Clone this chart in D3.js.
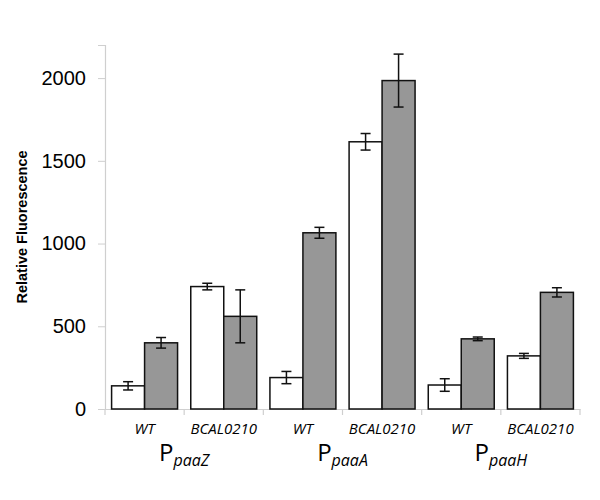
<!DOCTYPE html>
<html>
<head>
<meta charset="utf-8">
<script src="https://cdn.jsdelivr.net/npm/d3@7"></script>
<style>
  body { margin: 0; background: #fff; }
</style>
</head>
<body>
<div id="chart"></div>
<script>
// categories along the x axis
var promoters = ['paaZ', 'paaA', 'paaH'];
var strains = ['WT', 'BCAL0210'];

// white bars (first series) and grey bars (second series), in promoter/strain order
var whiteValues = [140, 740, 190, 1615, 145, 321];
var whiteErrors = [25, 20, 37, 50, 38, 15];
var greyValues = [400, 560, 1065, 1985, 424, 705];
var greyErrors = [32, 160, 33, 160, 11, 28];

var yTicks = [0, 500, 1000, 1500, 2000];

var width = 600;
var height = 500;

var svg = d3.select('#chart')
    .append('svg')
    .attr('width', width)
    .attr('height', height);

// build list of category keys
var cats = [];
promoters.forEach(function(p) {
    strains.forEach(function(s) {
        cats.push(p + '|' + s);
    });
});

var xScale = d3.scaleBand()
    .domain(cats)
    .range([105, 580])
    .paddingInner(0)
    .paddingOuter(0);

var yScale = d3.scaleLinear()
    .domain([0, 2200])
    .range([409, 45]);

// inner band for the pair of bars
var sub = d3.scaleBand()
    .domain(['white', 'grey'])
    .range([0, xScale.bandwidth()])
    .paddingOuter(0.2)
    .paddingInner(0);

// y axis
var yAxis = d3.axisLeft(yScale)
    .tickValues(yTicks)
    .tickSize(7)
    .tickPadding(12)
    .tickFormat(d3.format('d'));

var gy = svg.append('g')
    .attr('transform', 'translate(105,0)')
    .call(yAxis);
gy.select('.domain').attr('stroke', '#cfcfcf').attr('stroke-width', 1.2);
gy.selectAll('.tick line').attr('stroke', '#cfcfcf');
gy.selectAll('.tick text')
    .attr('fill', '#000')
    .style('font-family', 'Liberation Sans, Arial, sans-serif')
    .style('font-size', '20px');

// x axis: ticks at the category boundaries
var xAxis = d3.axisBottom(xScale).tickSize(0).tickFormat('');
var gx = svg.append('g')
    .attr('transform', 'translate(0,409)')
    .call(xAxis);
gx.select('.domain').attr('stroke', '#cfcfcf').attr('stroke-width', 1.2);
gx.selectAll('.tick').remove();

var bounds = cats.map(function(c) { return xScale(c); });
bounds.push(xScale.range()[1]);
gx.selectAll('.bound')
    .data(bounds)
    .enter()
    .append('line')
    .attr('x1', function(d) { return d; })
    .attr('x2', function(d) { return d; })
    .attr('y1', 0)
    .attr('y2', 6)
    .attr('stroke', '#cfcfcf')
    .attr('stroke-width', 1.2);

// data rows
var rows = cats.map(function(c, i) {
    return [
        { cat: c, key: 'white', v: whiteValues[i], e: whiteErrors[i] },
        { cat: c, key: 'grey', v: greyValues[i], e: greyErrors[i] }
    ];
});
var flat = [].concat.apply([], rows);

svg.selectAll('rect.bar')
    .data(flat)
    .enter()
    .append('rect')
    .attr('class', 'bar')
    .attr('x', function(d) { return xScale(d.cat) + sub(d.key); })
    .attr('y', function(d) { return yScale(d.v); })
    .attr('width', sub.bandwidth())
    .attr('height', function(d) { return yScale(0) - yScale(d.v); })
    .attr('fill', function(d) { return d.key === 'white' ? '#ffffff' : '#979797'; })
    .attr('stroke', '#111')
    .attr('stroke-width', 1.5);

// error bars
var errG = svg.selectAll('g.err')
    .data(flat)
    .enter()
    .append('g')
    .attr('class', 'err')
    .attr('transform', function(d) {
        return 'translate(' + (xScale(d.cat) + sub(d.key) + sub.bandwidth() / 2) + ',0)';
    });

errG.append('line')
    .attr('y1', function(d) { return yScale(d.v + d.e); })
    .attr('y2', function(d) { return yScale(d.v - d.e); })
    .attr('stroke', '#111')
    .attr('stroke-width', 1.5);

errG.append('line')
    .attr('x1', -5).attr('x2', 5)
    .attr('y1', function(d) { return yScale(d.v + d.e); })
    .attr('y2', function(d) { return yScale(d.v + d.e); })
    .attr('stroke', '#111')
    .attr('stroke-width', 1.5);

errG.append('line')
    .attr('x1', -5).attr('x2', 5)
    .attr('y1', function(d) { return yScale(d.v - d.e); })
    .attr('y2', function(d) { return yScale(d.v - d.e); })
    .attr('stroke', '#111')
    .attr('stroke-width', 1.5);

// strain labels
svg.selectAll('text.strain')
    .data(cats)
    .enter()
    .append('text')
    .attr('class', 'strain')
    .attr('x', function(d) { return xScale(d) + xScale.bandwidth() / 2; })
    .attr('y', 434)
    .attr('text-anchor', 'middle')
    .style('font-family', 'Open Sans, sans-serif')
    .style('font-style', 'italic')
    .style('font-size', '15px')
    .text(function(d) { return d.split('|')[1]; });

// promoter labels
promoters.forEach(function(p) {
    var x0 = xScale(p + '|' + strains[0]);
    var x1 = xScale(p + '|' + strains[1]) + xScale.bandwidth();
    var t = svg.append('text')
        .attr('x', (x0 + x1) / 2)
        .attr('y', 461)
        .attr('text-anchor', 'middle')
        .style('font-family', 'Open Sans, sans-serif')
        .style('font-size', '24px');
    t.append('tspan').text('P');
    t.append('tspan')
        .attr('dy', 5)
        .style('font-size', '16px')
        .style('font-style', 'italic')
        .text(p);
});

// y axis title
svg.append('text')
    .attr('transform', 'translate(27,227) rotate(-90)')
    .attr('text-anchor', 'middle')
    .style('font-family', 'Liberation Sans, Arial, sans-serif')
    .style('font-weight', 'bold')
    .style('font-size', '14.5px')
    .text('Relative Fluorescence');
</script>
</body>
</html>
